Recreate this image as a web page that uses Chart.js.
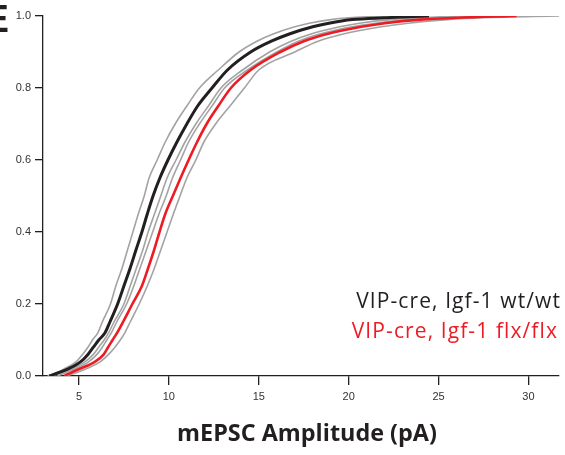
<!DOCTYPE html>
<html>
<head>
<meta charset="utf-8">
<script src="https://cdn.jsdelivr.net/npm/chart.js@4"></script>
<style>
  html, body { margin: 0; padding: 0; background: #ffffff; }
  #wrap { width: 565px; height: 455px; position: relative; }
</style>
</head>
<body>
<div id="wrap"><canvas id="c" width="565" height="455"></canvas></div>
<script>
// Cumulative probability levels (y values)
const probLevels = [0, 0.01, 0.02, 0.04, 0.06, 0.08, 0.1, 0.12, 0.15, 0.2, 0.25, 0.3, 0.35, 0.4, 0.45, 0.5, 0.55, 0.6, 0.65, 0.7, 0.75, 0.8, 0.85, 0.9, 0.93, 0.95, 0.97, 0.98, 0.99, 0.995, 1.0];

// mEPSC amplitude (pA) at each cumulative level
const wtMean   = [3.35, 3.9, 4.4, 5.1, 5.5, 5.8, 6.1, 6.45, 6.72, 7.15, 7.5, 7.85, 8.17, 8.5, 8.8, 9.12, 9.5, 9.95, 10.45, 11.0, 11.6, 12.4, 13.26, 14.55, 15.7, 16.7, 18.0, 18.9, 20.2, 22.0, 24.47];
const flxMean  = [4.18, 4.6, 5.05, 5.9, 6.38, 6.62, 6.87, 7.12, 7.45, 7.97, 8.5, 8.85, 9.18, 9.48, 9.8, 10.22, 10.65, 11.1, 11.57, 12.1, 12.75, 13.45, 14.55, 16.2, 17.5, 18.8, 20.7, 22.0, 24.0, 26.0, 29.34];
const wtUpper  = [3.26, 3.8, 4.2, 4.85, 5.2, 5.5, 5.75, 6.05, 6.3, 6.75, 7.05, 7.4, 7.7, 8.0, 8.3, 8.63, 8.9, 9.35, 9.8, 10.35, 11.0, 11.7, 12.75, 13.9, 14.9, 15.8, 17.0, 17.8, 19.0, 20.0, 22.0];
const wtLower  = [3.5, 4.1, 4.6, 5.35, 5.8, 6.1, 6.4, 6.65, 6.95, 7.5, 7.85, 8.2, 8.55, 8.85, 9.2, 9.55, 9.9, 10.4, 10.9, 11.5, 12.2, 12.9, 14.1, 15.6, 16.8, 17.9, 19.5, 20.6, 22.3, 24.0, 26.0];
const flxUpper = [3.8, 4.3, 4.8, 5.55, 6.0, 6.3, 6.55, 6.8, 7.1, 7.65, 8.05, 8.4, 8.75, 9.1, 9.45, 9.85, 10.2, 10.65, 11.1, 11.7, 12.4, 13.1, 14.37, 16.0, 17.2, 18.4, 20.2, 21.5, 23.3, 25.0, 28.0];
const flxLower = [4.3, 4.9, 5.4, 6.2, 6.65, 7.0, 7.3, 7.55, 7.85, 8.35, 8.8, 9.2, 9.55, 9.9, 10.25, 10.62, 11.0, 11.5, 11.95, 12.6, 13.4, 14.2, 15.0, 17.0, 18.3, 19.7, 21.8, 23.3, 25.5, 27.5, 31.7];

const xTickValues = [5, 10, 15, 20, 25, 30];
const yTickValues = [0.0, 0.2, 0.4, 0.6, 0.8, 1.0];
const legendLabels = ["VIP-cre, Igf-1 wt/wt", "VIP-cre, Igf-1 flx/flx"];
const xTitle = "mEPSC Amplitude (pA)";
const panelLabel = "E";

const BLACK = '#231f20';
const RED = '#ed1c24';
const GRAY = '#a3a3a3';

function pts(arr) { return arr.map((x, i) => ({ x: x, y: probLevels[i] })); }

function ds(label, arr, color, width, order) {
  return { label: label, data: pts(arr), borderColor: color, borderWidth: width,
           pointRadius: 0, cubicInterpolationMode: 'monotone', fill: false, order: order };
}

const textPlugin = {
  id: 'extraText',
  afterDraw(chart) {
    const ctx = chart.ctx;
    ctx.save();
    // panel label (partly cut at left edge)
    ctx.fillStyle = BLACK;
    ctx.font = 'bold 39px "Liberation Sans", Arial, sans-serif';
    ctx.textAlign = 'right';
    ctx.textBaseline = 'alphabetic';
    ctx.fillText(panelLabel, 9, 32);
    // axis title
    ctx.font = 'bold 23.4px "Open Sans", sans-serif';
    ctx.textAlign = 'center';
    ctx.fillText(xTitle, 307, 441);
    // legend text
    ctx.font = '21px "Open Sans", sans-serif';
    ctx.letterSpacing = '1.1px';
    ctx.textAlign = 'right';
    ctx.fillStyle = BLACK;
    ctx.fillText(legendLabels[0], 561, 308);
    ctx.fillStyle = RED;
    ctx.fillText(legendLabels[1], 558, 338);
    ctx.restore();
  }
};

new Chart(document.getElementById('c'), {
  type: 'line',
  data: {
    datasets: [
      ds(legendLabels[0], wtMean, BLACK, 3, 1),
      ds(legendLabels[1], flxMean, RED, 2.6, 2),
      ds('wt upper', wtUpper, GRAY, 1.6, 3),
      ds('wt lower', wtLower, GRAY, 1.6, 3),
      ds('flx upper', flxUpper, GRAY, 1.6, 3),
      ds('flx lower', flxLower, GRAY, 1.6, 3)
    ]
  },
  options: {
    responsive: false,
    animation: false,
    layout: { padding: { top: 16, right: 6, left: 0, bottom: 0 } },
    plugins: { legend: { display: false }, tooltip: { enabled: false } },
    scales: {
      x: {
        type: 'linear', min: 3, max: 31.7,
        afterBuildTicks: s => { s.ticks = xTickValues.map(v => ({ value: v })); },
        afterFit: s => { s.height = 79; },
        border: { display: true, color: BLACK, width: 1.3 },
        grid: { display: true, drawOnChartArea: false, drawTicks: true, tickLength: 9, color: BLACK, lineWidth: 1.3 },
        ticks: { color: '#333333', padding: 5, maxRotation: 0, font: { family: '"Liberation Sans", Arial, sans-serif', size: 11 },
                 callback: v => String(v) }
      },
      y: {
        type: 'linear', min: 0, max: 1,
        afterBuildTicks: s => { s.ticks = yTickValues.map(v => ({ value: v })); },
        afterFit: s => { s.width = 43; },
        border: { display: true, color: BLACK, width: 1.3 },
        grid: { display: true, drawOnChartArea: false, drawTicks: true, tickLength: 8, color: BLACK, lineWidth: 1.3 },
        ticks: { color: '#333333', padding: 4, font: { family: '"Liberation Sans", Arial, sans-serif', size: 11 },
                 callback: v => Number(v).toFixed(1) }
      }
    }
  },
  plugins: [textPlugin]
});
</script>
</body>
</html>
